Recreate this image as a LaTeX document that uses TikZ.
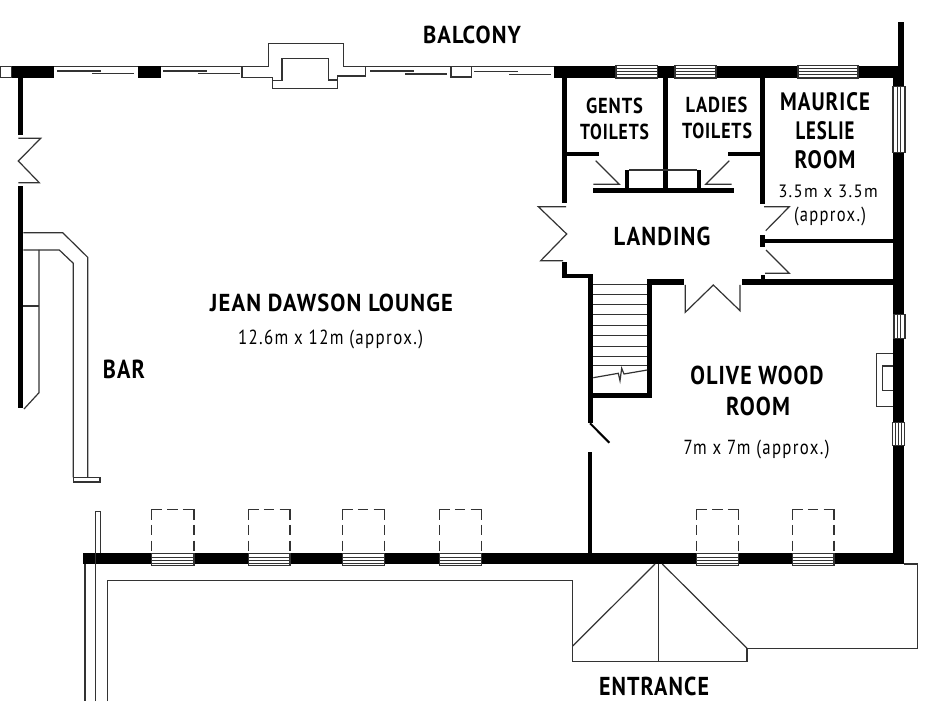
\documentclass[tikz,border=0pt]{standalone}
\usepackage{fontspec}
\usepackage{graphicx}
\newfontfamily\boldlab[LetterSpace=5]{PT Sans Bold}
\newfontfamily\lightlab[LetterSpace=8]{PT Sans}
\newlength\pxu \setlength\pxu{0.75pt}
\definecolor{ink}{HTML}{333333}
\tikzset{
  thin line/.style={draw=ink,line width=0.9pt,line join=miter},
  wall/.style={fill=black,draw=none},
  glass/.style={fill=white,draw=ink,line width=0.8pt},
  lab/.style={anchor=base,inner sep=0pt,outer sep=0pt,text=black},
  ghost/.style={draw=ink,line width=0.9pt,dash pattern=on 7.8pt off 3.9pt}
}
\newcommand\blab[6]{\node[lab] (#1) at (#2,#3) {\resizebox{#4\pxu}{#5\pxu}{\boldlab #6}};}
\newcommand\llab[6]{\node[lab] (#1) at (#2,#3) {\resizebox{#4\pxu}{#5\pxu}{\lightlab #6}};}
\newcommand\hwin[5]{%
  \filldraw[glass] (#1,#3) rectangle (#2,#4);
  \foreach \off in {#5} \draw[draw=ink,line width=0.9pt] (#1,#3+\off) -- (#2,#3+\off);}
\newcommand\vwin[5]{%
  \filldraw[glass] (#1,#3) rectangle (#2,#4);
  \foreach \off in {#5} \draw[draw=ink,line width=0.8pt] (#1+\off,#3) -- (#1+\off,#4);}
\newcommand\sashwin[2]{\hwin{#1}{#2}{553.3}{565.7}{4.4,7.2,10}}
\begin{document}
\begin{tikzpicture}[x=0.75pt,y=-0.75pt]
\path[use as bounding box,fill=white] (0,0) rectangle (940,706);

% ---- top wall, left portion
\draw[thin line] (0.5,66.7) rectangle (12,77.5);
\fill[wall] (12,66.5) rectangle (54,77.7);
\fill[wall] (138,66.5) rectangle (161,77.7);
\draw[thin line] (54,66.7) -- (138,66.7) (161,66.7) -- (242,66.7);
\draw[draw=ink,line width=1.3pt]
  (57,70.7) -- (101,70.7) (92,73.5) -- (134,73.5)
  (163,70.7) -- (207,70.7) (198,73.5) -- (240,73.5)
  (370,71) -- (414,71) (405,74) -- (447,74)
  (474,71.5) -- (518,71.5) (509,74.5) -- (551,74.5);
% bay
\draw[thin line] (242,66.7) -- (268.3,66.7) -- (268.3,43.7) -- (343.7,43.7) -- (343.7,66.7) -- (365.7,66.7) -- (365.7,76) -- (337.7,76) -- (337.7,88.3) -- (272.7,88.3) -- (272.7,77.3) -- (242,77.3) -- cycle;
\draw[thin line] (272.7,80.5) -- (282,80.5) -- (282,58.3) -- (328.7,58.3) -- (328.7,80) -- (337.7,80);
\draw[thin line] (365.7,66.7) -- (554,66.7);
\draw[thin line] (451,66.7) rectangle (471.7,77);

% ---- main black walls
\fill[wall] (554,66.5) rectangle (900,77.7);
\fill[wall] (898.3,22) rectangle (904,77.7);
\fill[wall] (893.3,66.5) rectangle (903.5,564);
\fill[wall] (83.3,553.3) rectangle (903.5,564.3);
% left wall
\fill[wall] (18.3,77) rectangle (23.3,135);
\fill[wall] (18.3,185.7) rectangle (23.3,408.3);
% toilets partitions
\fill[wall] (561.7,77) rectangle (566.7,202.7);
\fill[wall] (663.3,77) rectangle (668,193.3);
\fill[wall] (760,77) rectangle (765,204.3);
\fill[wall] (566,151.7) rectangle (599,156);
\fill[wall] (728,151.7) rectangle (760,156);
\fill[wall] (593.3,187.7) rectangle (734.3,193.3);
\fill[wall] (625,170) rectangle (629.3,188);
\fill[wall] (696.7,170) rectangle (701,188);
\draw[thin line] (629,170) -- (697,170);
% landing walls
\fill[wall] (562.3,261.7) rectangle (566.7,278.3);
\fill[wall] (562.3,274.3) rectangle (592.7,278.3);
\fill[wall] (587.7,274.3) rectangle (593,422.7);
\fill[wall] (587.7,393.3) rectangle (652.3,398.3);
\fill[wall] (647.3,279.3) rectangle (652.3,398.3);
\fill[wall] (647.3,279.3) rectangle (684.3,284.7);
\fill[wall] (741.7,279.3) rectangle (893.5,284.7);
\fill[wall] (760.7,275) rectangle (765.3,280);
\fill[wall] (760,235) rectangle (765,246.7);
\fill[wall] (765,239.3) rectangle (893.5,242.7);
\fill[wall] (587.7,451.7) rectangle (592.3,554);

% ---- doors
\draw[thin line] (18.3,138.3) -- (40.7,138.3) -- (18.3,161) -- (39.3,182.7) -- (18.3,182.7);
\draw[thin line] (595.7,160.7) -- (619.3,184.3) -- (593.3,184.3);
\draw[thin line] (729.3,160.7) -- (705.7,184.3) -- (731.7,184.3);
\draw[thin line] (566,206.7) -- (538.3,206.7) -- (566.7,234) -- (540.7,260.7) -- (563,260.7);
\draw[thin line] (764,206.7) -- (789.3,206.7) -- (765.7,230.7);
\draw[thin line] (766,250) -- (789.3,273.3) -- (765,273.3);
\draw[thin line] (685.3,285) -- (685.3,312.3) -- (713.3,285) -- (740,310.7) -- (740,285);
\draw[draw=black,line width=1.5pt] (590,423.3) -- (609.3,442.7);

% ---- stairs
\foreach \sy in {284.3,294.3,304.3,314.3,325.7,335.7,346.3,356.3,365.7}
  \draw[thin line] (593,\sy) -- (647.3,\sy);
\draw[thin line] (593.3,377.7) -- (618.3,373.3) -- (620,380.7) -- (621.7,368.3) -- (624,374) -- (647.3,370);

% ---- bar
\draw[thin line] (23.3,232.7) -- (62.7,232.7) -- (87.7,257.3) -- (87.7,477.3);
\draw[thin line] (23.3,250) -- (59.3,250) -- (73.3,263.3) -- (73.3,477.3);
\draw[thin line] (73.3,477.3) rectangle (100,482);
\draw[thin line] (39,250) -- (39,392.7) -- (24,409);
\draw[thin line] (23.3,306) -- (39,306);

% ---- fireplace
\draw[thin line] (892.7,353.3) -- (876.7,353.3) -- (876.7,406.7) -- (892.7,406.7);
\draw[thin line] (892.7,366) -- (882.7,366) -- (882.7,390.7) -- (892.7,390.7);

% ---- windows
\hwin{616}{657.7}{65.3}{78}{3.2,6.2,9.2}
\hwin{675}{716}{65.3}{78}{3.2,6.2,9.2}
\hwin{798}{858}{65.3}{78}{3.2,6.2,9.2}
\vwin{893}{905}{86.7}{152.7}{4.3,7.7}
\vwin{894}{905}{314.3}{338.3}{3.3,6.7}
\vwin{892.3}{904.3}{422.3}{445.7}{3,6,9}
\sashwin{151.7}{194}
\sashwin{248.3}{290}
\sashwin{342.3}{384.3}
\sashwin{439.3}{481.3}
\sashwin{696.7}{738.3}
\sashwin{792.3}{834}
% dashed outlines
\foreach \xa/\xb in {151.7/194,248.3/290,342.3/384.3,439.3/481.3,696.7/738.3,792.3/834}{
  \draw[ghost] (\xa,509.3) -- (\xb,509.3);
  \draw[ghost] (\xa,509.3) -- (\xa,553);
  \draw[ghost] (\xb,509.3) -- (\xb,553);
}

% ---- outside
\draw[thin line] (85,564) -- (85,701);
\draw[thin line] (95.3,701) -- (95.3,511.7) -- (100.3,511.7) -- (100.3,553.3);
\draw[thin line] (107.7,701) -- (107.7,580.5) -- (572.7,580.5) -- (572.7,661.7) -- (747,661.7) -- (747,648.3) -- (917.7,648.3) -- (917.7,564) -- (903.5,564);
\draw[thin line] (655,564) -- (572.7,646);
\draw[thin line] (662.3,564) -- (747,648.3);
\draw[thin line] (658.3,564) -- (658.3,661.7);

% ---- labels
\blab{balcony}{472}{44}{98}{17.5}{BALCONY}
\blab{gents}{614.5}{113.3}{57}{15.5}{GENTS}
\blab{toiletsa}{614.5}{139.3}{69}{15.5}{TOILETS}
\blab{ladies}{716.5}{112.3}{62}{15.5}{LADIES}
\blab{toiletsb}{717}{138.7}{70}{15.5}{TOILETS}
\blab{maurice}{825}{110.7}{90}{18}{MAURICE}
\blab{leslie}{825}{140}{59}{18}{LESLIE}
\blab{roomm}{825}{169}{61}{18}{ROOM}
\llab{sizem}{828}{197.7}{99.5}{12.5}{3.5m x 3.5m}
\llab{approxm}{830}{221.7}{72}{14.5}{(approx.)}
\blab{landing}{662}{245.7}{97}{18.5}{LANDING}
\blab{jean}{331.5}{311}{243}{17.5}{JEAN DAWSON LOUNGE}
\llab{sizej}{330.5}{344.5}{185}{14.5}{12.6m x 12m (approx.)}
\blab{barl}{124}{378.3}{42}{18.5}{BAR}
\blab{olive}{757}{384.5}{133}{18.5}{OLIVE WOOD}
\blab{roomo}{758}{415.7}{64}{18.5}{ROOM}
\llab{sizeo}{756.5}{455}{146}{14.5}{7m x 7m (approx.)}
\blab{entrance}{654}{695}{110}{18.5}{ENTRANCE}
\end{tikzpicture}
\end{document}
